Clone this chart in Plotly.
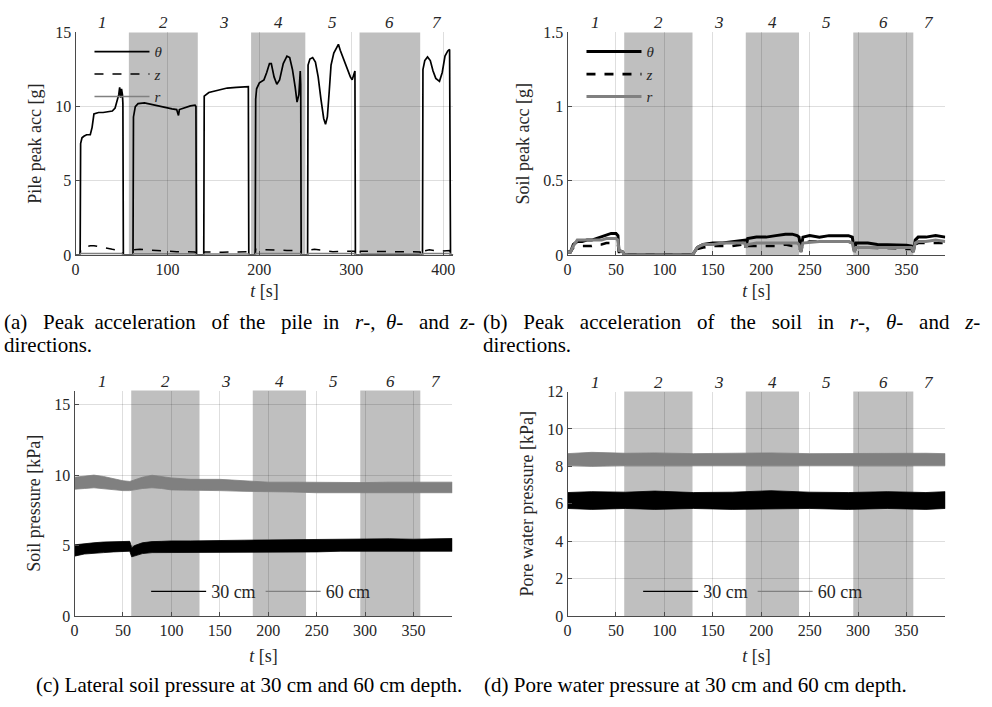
import plotly.graph_objects as go

# ---------------- data ----------------
# Test segment boundaries (shaded = even-numbered segments)
pile_bounds = [0, 58, 133, 191, 250, 309, 375, 411]
soil_bounds = [0, 58.5, 129, 184, 239, 295, 357, 390]
segment_labels = ["1", "2", "3", "4", "5", "6", "7"]

# (a) pile peak acceleration [g]
pile_theta_t = [0, 5, 5.5, 7, 9, 12, 16, 18, 20, 25, 30, 35, 40, 43, 45, 47, 48, 49, 50, 51, 51.5, 52,
                62.5, 63, 65, 68, 75, 85, 95, 105, 110, 112, 113, 115, 120, 125, 130, 131, 131.5,
                139.5, 140, 145, 155, 165, 175, 185, 188, 188.5,
                195.5, 196, 197, 200, 205, 208, 211, 213, 216, 219, 222, 226, 230, 233, 236, 239, 241, 243, 244.5, 245, 245.5,
                252.5, 253, 255, 258, 261, 264, 267, 270, 272, 274, 276, 278, 281, 284, 286, 288, 291, 294, 297, 299, 301, 303, 304, 304.5,
                377.5, 378, 380, 383, 386, 389, 392, 396, 399, 402, 405, 407, 408, 411]
pile_theta = [0, 0, 7.5, 7.9, 8.0, 8.1, 8.1, 8.6, 9.5, 9.6, 9.6, 9.65, 9.7, 9.9, 10.3, 10.8, 11.3, 10.6, 11.2, 10.8, 10.2, 0,
              0, 9.3, 10.0, 10.2, 10.25, 10.1, 9.95, 9.85, 9.8, 9.4, 9.8, 9.85, 9.95, 10.05, 10.1, 10.0, 0,
              0, 10.7, 10.95, 11.1, 11.25, 11.3, 11.35, 11.35, 0,
              0, 10.5, 11.2, 11.6, 11.8, 12.3, 12.9, 12.9, 12.0, 11.5, 11.8, 12.9, 13.4, 13.3, 12.5, 11.3, 10.3, 10.8, 12.4, 11.5, 0,
              0, 12.8, 13.2, 13.3, 13.0, 12.0, 10.5, 9.2, 8.8, 9.3, 11.0, 12.8, 13.6, 14.0, 14.2, 13.8, 13.3, 12.8, 12.3, 12.0, 11.8, 12.2, 12.4, 0,
              0, 12.5, 13.1, 13.35, 13.1, 12.4, 11.9, 11.7, 12.3, 13.4, 13.75, 13.85, 0, 0]

pile_zr_t = [0, 5, 5.5, 8, 12, 16, 20, 25, 30, 35, 40, 45, 50, 52,
             62.5, 63, 70, 80, 90, 110, 130, 131.5,
             139.5, 140, 160, 188, 188.5,
             195.5, 196, 210, 230, 245, 245.5,
             252.5, 253, 260, 270, 280, 295, 304, 304.5,
             309, 310, 330, 350, 375, 375.5,
             377.5, 378, 385, 395, 407.5, 408, 411]
pile_z = [0, 0, 0.3, 0.45, 0.55, 0.62, 0.62, 0.55, 0.48, 0.42, 0.38, 0.33, 0.3, 0,
          0, 0.35, 0.38, 0.32, 0.27, 0.22, 0.2, 0,
          0, 0.2, 0.18, 0.22, 0,
          0, 0.38, 0.33, 0.3, 0.3, 0,
          0, 0.3, 0.38, 0.3, 0.22, 0.25, 0.25, 0,
          0, 0.25, 0.22, 0.22, 0.2, 0,
          0, 0.25, 0.35, 0.25, 0.3, 0, 0]
pile_r = [0, 0, 0.1, 0.1, 0.1, 0.1, 0.1, 0.1, 0.1, 0.1, 0.1, 0.1, 0.1, 0,
          0, 0.08, 0.08, 0.08, 0.08, 0.08, 0.08, 0,
          0, 0.07, 0.07, 0.07, 0,
          0, 0.1, 0.1, 0.1, 0.1, 0,
          0, 0.1, 0.1, 0.1, 0.1, 0.1, 0.1, 0,
          0, 0.06, 0.06, 0.06, 0.06, 0,
          0, 0.1, 0.1, 0.1, 0.1, 0, 0]

# (b) soil peak acceleration [g]
soil_t = [0, 3, 6, 10, 15, 20, 25, 30, 35, 40, 45, 50, 52, 53, 57, 58.5,
          129, 131, 134, 140, 150, 160, 170, 180, 183, 184, 186, 195, 205, 215, 225, 232, 237, 239,
          241, 243, 250, 260, 270, 280, 290, 294, 296, 298, 310, 320, 330, 340, 350, 355, 357,
          359, 362, 370, 380, 390]
soil_theta = [0.02, 0.02, 0.07, 0.09, 0.09, 0.10, 0.10, 0.11, 0.12, 0.13, 0.145, 0.145, 0.13, 0.03, 0.02, 0,
              0, 0.02, 0.05, 0.07, 0.08, 0.08, 0.09, 0.10, 0.10, 0.05, 0.11, 0.12, 0.12, 0.13, 0.14, 0.14, 0.13, 0.12,
              0.03, 0.12, 0.13, 0.12, 0.13, 0.13, 0.13, 0.12, 0.03, 0.08, 0.08, 0.07, 0.07, 0.07, 0.065, 0.06, 0.02,
              0.10, 0.12, 0.12, 0.13, 0.12]
soil_z = [0.02, 0.02, 0.05, 0.06, 0.06, 0.06, 0.06, 0.07, 0.07, 0.08, 0.08, 0.08, 0.07, 0.02, 0.02, 0,
          0, 0.02, 0.04, 0.05, 0.06, 0.06, 0.06, 0.07, 0.07, 0.05, 0.06, 0.06, 0.06, 0.06, 0.07, 0.06, 0.06, 0.06,
          0.02, 0.08, 0.09, 0.09, 0.09, 0.09, 0.09, 0.08, 0.02, 0.05, 0.05, 0.05, 0.05, 0.045, 0.04, 0.04, 0.02,
          0.07, 0.08, 0.08, 0.08, 0.08]
soil_r = [0.02, 0.02, 0.06, 0.10, 0.10, 0.10, 0.10, 0.10, 0.10, 0.11, 0.11, 0.11, 0.10, 0.03, 0.02, 0,
          0, 0.02, 0.05, 0.07, 0.07, 0.08, 0.08, 0.08, 0.08, 0.05, 0.07, 0.08, 0.08, 0.08, 0.08, 0.08, 0.08, 0.07,
          0.02, 0.08, 0.085, 0.09, 0.09, 0.09, 0.09, 0.08, 0.02, 0.05, 0.05, 0.05, 0.05, 0.05, 0.05, 0.05, 0.02,
          0.08, 0.09, 0.09, 0.10, 0.09]

# (c) lateral soil pressure [kPa]: lower / upper envelope of the recorded signal
press_t = [0, 10, 20, 30, 40, 50, 57, 59, 62, 70, 80, 90, 100, 120, 150, 175, 200, 225, 250, 275, 300, 325, 350, 370, 390]
press30_lo = [4.25, 4.4, 4.45, 4.5, 4.55, 4.6, 4.6, 4.2, 4.3, 4.43, 4.5, 4.52, 4.52, 4.55, 4.55, 4.55, 4.5, 4.55, 4.55, 4.6, 4.6, 4.62, 4.65, 4.6, 4.6]
press30_hi = [5.05, 5.15, 5.2, 5.25, 5.28, 5.3, 5.3, 4.85, 5.0, 5.2, 5.28, 5.3, 5.33, 5.33, 5.33, 5.38, 5.4, 5.42, 5.45, 5.45, 5.5, 5.48, 5.45, 5.5, 5.5]
press60_lo = [9.0, 9.05, 9.1, 9.05, 8.95, 8.9, 8.9, 8.9, 8.95, 9.05, 9.1, 9.05, 8.95, 8.9, 8.9, 8.85, 8.8, 8.8, 8.75, 8.75, 8.73, 8.75, 8.75, 8.75, 8.75]
press60_hi = [9.85, 9.9, 10.0, 9.9, 9.75, 9.6, 9.55, 9.6, 9.7, 9.85, 9.99, 9.9, 9.8, 9.7, 9.7, 9.6, 9.5, 9.5, 9.48, 9.47, 9.47, 9.5, 9.5, 9.5, 9.5]

# (d) pore water pressure [kPa]: lower / upper envelope of the recorded signal
pore_t = [0, 25, 60, 90, 130, 170, 210, 250, 290, 330, 370, 390]
pore30_lo = [5.75, 5.7, 5.75, 5.7, 5.75, 5.7, 5.72, 5.75, 5.7, 5.75, 5.7, 5.75]
pore30_hi = [6.6, 6.65, 6.62, 6.68, 6.6, 6.62, 6.7, 6.62, 6.6, 6.65, 6.6, 6.65]
pore60_lo = [8.05, 8.0, 8.05, 8.02, 8.05, 8.05, 8.02, 8.05, 8.03, 8.05, 8.05, 8.05]
pore60_hi = [8.68, 8.75, 8.7, 8.72, 8.68, 8.7, 8.72, 8.68, 8.7, 8.72, 8.7, 8.68]

# ---------------- styling ----------------
W, H = 992, 707
SERIF = "Liberation Serif, Times New Roman, Times, serif"
TXT = "#262626"
GRID = "rgba(0,0,0,0.13)"
SHADE = "#bfbfbf"
GREY = "#808080"


def px_x(p):
    return p / W


def px_y(p):
    return 1 - p / H


panels = {
    "a": dict(x=(72, 452), y=(25, 253), xr=[0, 411], xt=[0, 100, 200, 300, 400],
              yr=[0, 15], yt=[0, 5, 10, 15], yl=["0", "5", "10", "15"],
              title="Pile peak acc [g]", bounds=pile_bounds, tstand=7),
    "b": dict(x=(567, 947), y=(25, 253), xr=[0, 390], xt=list(range(0, 351, 50)),
              yr=[0, 1.5], yt=[0, 0.5, 1, 1.5], yl=["0", "0.5", "1", "1.5"],
              title="Soil peak acc [g]", bounds=soil_bounds, tstand=7),
    "c": dict(x=(71, 451), y=(392, 623), xr=[0, 390], xt=list(range(0, 351, 50)),
              yr=[0, 16], yt=[0, 5, 10, 15], yl=["0", "5", "10", "15"],
              title="Soil pressure [kPa]", bounds=soil_bounds, tstand=11),
    "d": dict(x=(567, 947), y=(393, 623), xr=[0, 390], xt=list(range(0, 351, 50)),
              yr=[0, 12], yt=list(range(0, 13, 2)), yl=[str(v) for v in range(0, 13, 2)],
              title="Pore water pressure [kPa]", bounds=soil_bounds, tstand=11),
}
axis_ids = {"a": "", "b": "2", "c": "3", "d": "4"}

fig = go.Figure()

# (a)
fig.add_trace(go.Scatter(x=pile_theta_t, y=pile_theta, mode="lines", name="<i>θ</i>",
                         line=dict(color="black", width=1.7), xaxis="x", yaxis="y", legend="legend"))
fig.add_trace(go.Scatter(x=pile_zr_t, y=pile_z, mode="lines", name="<i>z</i>",
                         line=dict(color="black", width=1.5, dash="dash"), xaxis="x", yaxis="y", legend="legend"))
fig.add_trace(go.Scatter(x=pile_zr_t, y=pile_r, mode="lines", name="<i>r</i>",
                         line=dict(color=GREY, width=1.5), xaxis="x", yaxis="y", legend="legend"))

# (b)
fig.add_trace(go.Scatter(x=soil_t, y=soil_theta, mode="lines", name="<i>θ</i>",
                         line=dict(color="black", width=3), xaxis="x2", yaxis="y2", legend="legend2"))
fig.add_trace(go.Scatter(x=soil_t, y=soil_z, mode="lines", name="<i>z</i>",
                         line=dict(color="black", width=2.6, dash="dash"), xaxis="x2", yaxis="y2", legend="legend2"))
fig.add_trace(go.Scatter(x=soil_t, y=soil_r, mode="lines", name="<i>r</i>",
                         line=dict(color=GREY, width=3), xaxis="x2", yaxis="y2", legend="legend2"))


def band(t, lo, hi, color, xa, ya):
    return go.Scatter(x=list(t) + list(t)[::-1], y=list(hi) + list(lo)[::-1], mode="lines",
                      fill="toself", fillcolor=color, line=dict(color=color, width=0.8),
                      showlegend=False, hoverinfo="skip", xaxis=xa, yaxis=ya)


# (c)
fig.add_trace(band(press_t, press60_lo, press60_hi, GREY, "x3", "y3"))
fig.add_trace(band(press_t, press30_lo, press30_hi, "black", "x3", "y3"))
fig.add_trace(go.Scatter(x=[None], y=[None], mode="lines", name="30 cm", line=dict(color="black", width=1.2),
                         xaxis="x3", yaxis="y3", legend="legend3"))
fig.add_trace(go.Scatter(x=[None], y=[None], mode="lines", name="60 cm", line=dict(color=GREY, width=1.2),
                         xaxis="x3", yaxis="y3", legend="legend3"))

# (d)
fig.add_trace(band(pore_t, pore60_lo, pore60_hi, GREY, "x4", "y4"))
fig.add_trace(band(pore_t, pore30_lo, pore30_hi, "black", "x4", "y4"))
fig.add_trace(go.Scatter(x=[None], y=[None], mode="lines", name="30 cm", line=dict(color="black", width=1.2),
                         xaxis="x4", yaxis="y4", legend="legend4"))
fig.add_trace(go.Scatter(x=[None], y=[None], mode="lines", name="60 cm", line=dict(color=GREY, width=1.2),
                         xaxis="x4", yaxis="y4", legend="legend4"))

layout = dict(
    width=W, height=H, margin=dict(l=0, r=0, t=0, b=0),
    paper_bgcolor="white", plot_bgcolor="white",
    font=dict(family=SERIF, color=TXT, size=15),
    shapes=[], annotations=[],
)

common_axis = dict(showline=True, linecolor="#4a4a4a", linewidth=1.3, mirror=False,
                   showgrid=True, gridcolor=GRID, gridwidth=1, zeroline=False,
                   ticks="inside", ticklen=4, tickwidth=1, tickcolor="#4a4a4a",
                   tickfont=dict(family=SERIF, size=16, color=TXT))

for key, p in panels.items():
    aid = axis_ids[key]
    xa, ya = "xaxis" + aid, "yaxis" + aid
    xref, yref = "x" + aid, "y" + aid
    layout[xa] = dict(common_axis, domain=[px_x(p["x"][0]), px_x(p["x"][1])], range=p["xr"],
                      tickvals=p["xt"], ticktext=[str(v) for v in p["xt"]], anchor=yref,
                      title=dict(text="<i>t</i> [s]", font=dict(family=SERIF, size=18, color=TXT),
                                 standoff=p["tstand"]))
    layout[ya] = dict(common_axis, domain=[px_y(p["y"][1]), px_y(p["y"][0])], range=p["yr"],
                      tickvals=p["yt"], ticktext=p["yl"], anchor=xref,
                      title=dict(text=p["title"], font=dict(family=SERIF, size=18, color=TXT), standoff=8))
    b = p["bounds"]
    for i in range(len(b) - 1):
        if i % 2 == 1:
            layout["shapes"].append(dict(type="rect", xref=xref, yref=yref + " domain",
                                         x0=b[i], x1=b[i + 1], y0=0, y1=1, fillcolor=SHADE,
                                         line=dict(width=0), layer="below"))
        layout["annotations"].append(dict(x=(b[i] + b[i + 1]) / 2, y=1, xref=xref, yref=yref + " domain",
                                          text="<i>" + segment_labels[i] + "</i>", showarrow=False,
                                          yanchor="bottom", yshift=-2,
                                          font=dict(family=SERIF, size=17, color=TXT)))

legend_common = dict(bgcolor="rgba(0,0,0,0)", borderwidth=0, font=dict(family=SERIF, size=15, color=TXT),
                     tracegroupgap=0, itemwidth=55)
layout["legend"] = dict(legend_common, x=px_x(86), y=px_y(28), xanchor="left", yanchor="top")
layout["legend2"] = dict(legend_common, x=px_x(581), y=px_y(28), xanchor="left", yanchor="top")
layout["legend3"] = dict(legend_common, orientation="h", x=px_x(143), y=px_y(598), xanchor="left",
                         yanchor="middle", font=dict(family=SERIF, size=18, color=TXT))
layout["legend4"] = dict(legend_common, orientation="h", x=px_x(638), y=px_y(598), xanchor="left",
                         yanchor="middle", font=dict(family=SERIF, size=18, color=TXT))


def spread(words, gaps):
    """Join caption words, widening each inter-word gap by the given number of non-breaking spaces."""
    out = words[0]
    for w, g in zip(words[1:], gaps):
        out += " " + "&nbsp;" * g + w
    return out


cap_a_words = ["(a)", "Peak", "acceleration", "of", "the", "pile", "in", "<i>r</i>-,", "<i>θ</i>-", "and", "<i>z</i>-"]
cap_b_words = ["(b)", "Peak", "acceleration", "of", "the", "soil", "in", "<i>r</i>-,", "<i>θ</i>-", "and", "<i>z</i>-"]

captions = [
    (-2, 322, spread(cap_a_words, [2, 1, 2, 1, 2, 1, 2, 1, 2, 1])),
    (-2, 345, "directions."),
    (480, 322, spread(cap_b_words, [2, 2, 2, 2, 2, 2, 2, 2, 2, 2])),
    (480, 345, "directions."),
    (30, 694, "(c) Lateral soil pressure at 30 cm and 60 cm depth."),
    (481, 694, "(d) Pore water pressure at 30 cm and 60 cm depth."),
]
for cx, cy, txt in captions:
    layout["annotations"].append(dict(x=px_x(cx), y=px_y(cy), xref="paper", yref="paper", text=txt,
                                      showarrow=False, xanchor="left", yanchor="middle", align="left",
                                      font=dict(family=SERIF, size=21, color="black")))

fig.update_layout(**layout)
fig.write_html("out.html")
